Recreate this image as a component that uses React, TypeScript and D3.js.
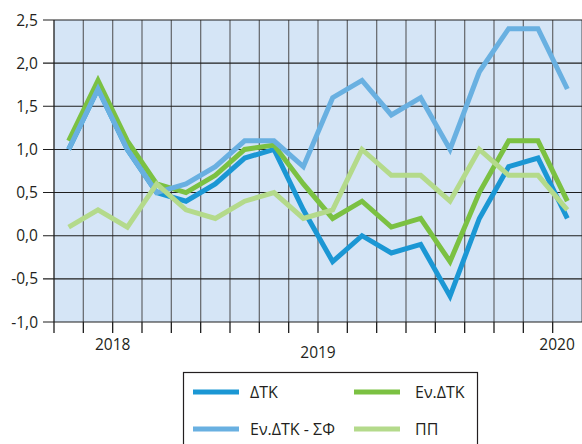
import React, { useEffect, useRef } from "react";
import * as d3 from "d3";

// 18 periods along the x axis
const periods = d3.range(1, 19).map(i => `p${i}`);

const dtk = [1.0, 1.7, 1.0, 0.5, 0.4, 0.6, 0.9, 1.0, 0.3, -0.3, 0.0, -0.2, -0.1, -0.7, 0.2, 0.8, 0.9, 0.2];
const enDtkSf = [1.0, 1.7, 1.0, 0.5, 0.6, 0.8, 1.1, 1.1, 0.8, 1.6, 1.8, 1.4, 1.6, 1.0, 1.9, 2.4, 2.4, 1.7];
const enDtk = [1.1, 1.8, 1.1, 0.6, 0.5, 0.7, 1.0, 1.05, 0.6, 0.2, 0.4, 0.1, 0.2, -0.3, 0.5, 1.1, 1.1, 0.4];
const pp = [0.1, 0.3, 0.1, 0.6, 0.3, 0.2, 0.4, 0.5, 0.2, 0.3, 1.0, 0.7, 0.7, 0.4, 1.0, 0.7, 0.7, 0.3];

const yTicks = [-1.0, -0.5, 0.0, 0.5, 1.0, 1.5, 2.0, 2.5];
const yearLabels = [
  { label: "2018", at: 2, low: false },
  { label: "2019", at: 9, low: true },
  { label: "2020", at: 17.15, low: false },
];

const series = [
  { name: "ΔΤΚ", values: dtk, color: "#1b97d4" },
  { name: "Εν.ΔΤΚ", values: enDtk, color: "#7bc142" },
  { name: "Εν.ΔΤΚ - ΣΦ", values: enDtkSf, color: "#69b0e1" },
  { name: "ΠΠ", values: pp, color: "#b4da8b" },
];
// legend layout order (row by row)
const legendOrder = ["ΔΤΚ", "Εν.ΔΤΚ", "Εν.ΔΤΚ - ΣΦ", "ΠΠ"];

const FONT = "'Open Sans', 'DejaVu Sans', sans-serif";

export default function App() {
  const svgRef = useRef<SVGSVGElement>(null);

  useEffect(() => {
    if (!svgRef.current) return;
    const root = d3.select(svgRef.current);
    root.selectAll("*").remove();

    const W = 582, H = 444;
    const left = 54, right = 582, top = 20, bottom = 322;

    const x = d3.scaleBand<string>().domain(periods).range([left, right]).paddingInner(0).paddingOuter(0);
    const xPos = (i: number) => left + i * x.step();
    const y = d3.scaleLinear().domain([-1, 2.5]).range([bottom, top]);

    root.attr("width", W).attr("height", H);

    root.append("rect").attr("x", left).attr("y", top)
      .attr("width", right - left).attr("height", bottom - top)
      .attr("fill", "#d5e5f6");

    // vertical grid
    d3.range(1, periods.length + 1).forEach(i => {
      root.append("line").attr("x1", xPos(i)).attr("x2", xPos(i)).attr("y1", top).attr("y2", bottom)
        .attr("stroke", "#6b6e73").attr("stroke-width", 1.3);
    });

    // horizontal grid + y ticks
    yTicks.forEach(t => {
      root.append("line").attr("x1", left - 11).attr("x2", right).attr("y1", y(t)).attr("y2", y(t))
        .attr("stroke", "#1e1e1e").attr("stroke-width", 1.1);
      root.append("text").attr("x", 38).attr("y", y(t)).attr("dy", "0.36em")
        .attr("text-anchor", "end").style("font-family", FONT).style("font-size", "15.5px")
        .attr("fill", "#231f20").text(t.toFixed(1).replace(".", ","));
    });

    // left axis + bottom ticks
    root.append("line").attr("x1", left).attr("x2", left).attr("y1", top).attr("y2", bottom + 11)
      .attr("stroke", "#1e1e1e").attr("stroke-width", 1.3);
    d3.range(1, periods.length).forEach(i => {
      root.append("line").attr("x1", xPos(i)).attr("x2", xPos(i)).attr("y1", bottom).attr("y2", bottom + 11)
        .attr("stroke", "#1e1e1e").attr("stroke-width", 1.3);
    });

    yearLabels.forEach(l => {
      root.append("text").attr("x", xPos(l.at)).attr("y", l.low ? 358 : 350)
        .attr("text-anchor", "middle").style("font-family", FONT).style("font-size", "15.5px")
        .attr("fill", "#231f20").text(l.label);
    });

    // lines
    const line = d3.line<number>()
      .x((_, i) => (x(periods[i]) as number) + x.bandwidth() / 2)
      .y(d => y(d));
    series.forEach(s => {
      root.append("path").datum(s.values).attr("fill", "none")
        .attr("stroke", s.color).attr("stroke-width", 5).attr("stroke-linejoin", "miter")
        .attr("d", line);
    });

    // legend
    const lg = root.append("g");
    lg.append("rect").attr("x", 183.5).attr("y", 372.5).attr("width", 294).attr("height", 90)
      .attr("fill", "#fff").attr("stroke", "#231f20").attr("stroke-width", 1.2);
    legendOrder.forEach((name, k) => {
      const s = series.find(d => d.name === name)!;
      const col = k % 2, row = Math.floor(k / 2);
      const sx = col === 0 ? 193 : 354;
      const ty = row === 0 ? 392 : 429;
      lg.append("line").attr("x1", sx).attr("x2", sx + 46).attr("y1", ty).attr("y2", ty)
        .attr("stroke", s.color).attr("stroke-width", 5);
      lg.append("text").attr("x", col === 0 ? 250 : 415).attr("y", ty).attr("dy", "0.36em")
        .style("font-family", FONT).style("font-size", "16px").attr("fill", "#231f20").text(name);
    });
  }, []);

  return (
    <div style={{ position: "absolute", left: 0, top: 0, width: 582, height: 444, background: "#fff" }}>
      <svg ref={svgRef} style={{ display: "block" }}></svg>
    </div>
  );
}
